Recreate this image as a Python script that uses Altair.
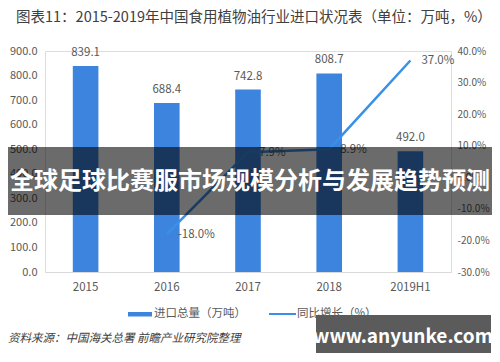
import altair as alt
import pandas as pd

years = ["2015", "2016", "2017", "2018", "2019H1"]
imports = [839.1, 688.4, 742.8, 808.7, 492.0]
growth = [None, -18.0, 7.9, 8.9, 37.0]
left_ticks = [0, 100, 200, 300, 400, 500, 600, 700, 800, 900]
right_ticks = [-30, -20, -10, 0, 10, 20, 30, 40]

title_text = "图表11：2015-2019年中国食用植物油行业进口状况表（单位：万吨，%）"
legend_bar = "进口总量（万吨）"
legend_line = "同比增长（%）"
source_text = "资料来源：中国海关总署 前瞻产业研究院整理"
app_text = "前瞻经济学人APP"
banner_text = "全球足球比赛服市场规模分析与发展趋势预测"
site_text = "www.anyunke.com"

FONT = "Noto Sans CJK SC"
BAR = "#3c84de"
LINE = "#3a8fe6"
GRAY = "#595959"
DARK = "#404040"

df = pd.DataFrame({"year": years, "imports": imports, "growth": growth})
df["imp_label"] = [f"{v:.1f}" for v in imports]
df_line = df.dropna(subset=["growth"]).copy()
df_line["g_label"] = [f"{v:.1f}%" for v in df_line["growth"]]

W, H = 406, 221
NS = 11

x_enc = alt.X(
    "year:N", sort=years,
    scale=alt.Scale(paddingInner=0, paddingOuter=0),
    axis=alt.Axis(title=None, labelAngle=0, ticks=False, tickSize=0, labelPadding=9,
                  domainColor="#d9d9d9", labelColor=GRAY, labelFontSize=11.5, labelFont=FONT,
                  grid=False),
)
left_scale = alt.Scale(domain=[0, 900], nice=False, zero=True)
right_scale = alt.Scale(domain=[-30, 40], nice=False, zero=False)

bars = alt.Chart(df).mark_bar(size=25.6, color=BAR).encode(
    x=x_enc,
    y=alt.Y("imports:Q", scale=left_scale,
            axis=alt.Axis(title=None, values=left_ticks, format=".1f", grid=False, ticks=False,
                          tickSize=0, domain=False, labelPadding=8, labelColor=GRAY,
                          labelFontSize=NS, labelFont=FONT)),
)
bar_text = alt.Chart(df).mark_text(dy=-13, color=GRAY, fontSize=11.5, font=FONT).encode(
    x=x_enc,
    y=alt.Y("imports:Q", scale=left_scale, axis=None),
    text="imp_label:N",
)
line = alt.Chart(df_line).mark_line(color=LINE, strokeWidth=2.5).encode(
    x=x_enc,
    y=alt.Y("growth:Q", scale=right_scale,
            axis=alt.Axis(orient="right", title=None, values=right_ticks,
                          labelExpr="(datum.value < 0 ? '-' : '') + format(abs(datum.value), '.1f') + '%'",
                          grid=False, ticks=False,
                          tickSize=0, domain=False, labelPadding=6, labelColor=GRAY,
                          labelFontSize=10, labelFont=FONT)),
)
line_text = alt.Chart(df_line).mark_text(align="left", dx=11, dy=1, color=GRAY, fontSize=11.5,
                                         font=FONT).encode(
    x=x_enc,
    y=alt.Y("growth:Q", scale=right_scale, axis=None),
    text="g_label:N",
)

one = alt.Data(values=[{}])


def txt(s, x, y, size, color, align="left", weight="normal", style="normal"):
    return alt.Chart(one).mark_text(text=s, align=align, baseline="middle", fontSize=size,
                                    color=color, font=FONT, fontWeight=weight,
                                    fontStyle=style).encode(x=alt.value(x), y=alt.value(y))


def box(x1, x2, y1, y2, color, opacity=1.0):
    return alt.Chart(one).mark_rect(color=color, opacity=opacity).encode(
        x=alt.value(x1), x2=alt.value(x2), y=alt.value(y1), y2=alt.value(y2))


title = txt(title_text, -29, -33, 14.5, DARK)
leg_bar = box(83, 107, 261, 265.5, BAR)
leg_bar_t = txt(legend_bar, 109, 263, 11.5, GRAY)
leg_line = alt.Chart(one).mark_rule(color=LINE, strokeWidth=2).encode(
    x=alt.value(224), x2=alt.value(251), y=alt.value(263))
leg_line_t = txt(legend_line, 252, 263, 11.5, GRAY)
source = txt(source_text, -37, 288, 11.5, DARK, style="italic")
app = txt(app_text, 440, 288, 11.5, DARK, align="right")
banner = box(-37, 447, 96, 164, "#000000", 0.58)
banner_t = txt(banner_text, 205, 130.5, 24, "#ffffff", align="center", weight="bold")
site_box = box(271, 446, 264, 302, "#5b5b5b")
site_t = txt(site_text, 358, 286, 19, "#ffffff", align="center", weight="bold")

chart = alt.layer(
    bars, bar_text, line, line_text,
    title, leg_bar, leg_bar_t, leg_line, leg_line_t, source, app,
    banner, banner_t, site_box, site_t,
).resolve_scale(y="independent").properties(
    width=W, height=H,
    autosize=alt.AutoSizeParams(type="none"),
    padding={"left": 37, "top": 43, "right": 41, "bottom": 82},
    background="#ffffff",
).configure_view(stroke=None).configure(font=FONT)

chart.save("out.html", embed_options={"renderer": "svg", "actions": False})
